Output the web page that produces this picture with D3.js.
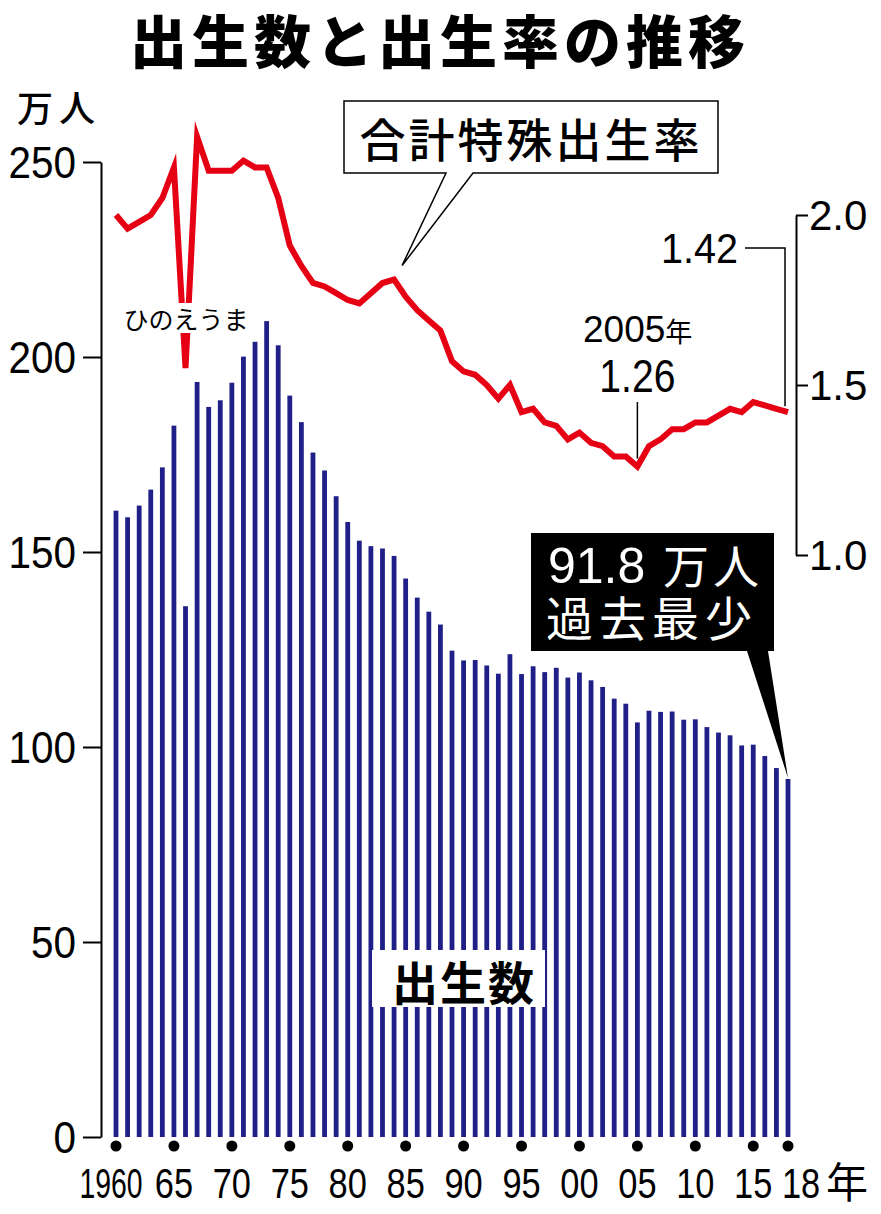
<!DOCTYPE html>
<html>
<head>
<meta charset="utf-8">
<script src="https://cdn.jsdelivr.net/npm/d3@7"></script>
<style>
  body { margin: 0; background: #fff; }
  svg { display: block; }
</style>
</head>
<body>
<svg width="881" height="1214"></svg>
<script>
// ---- data ----
const years = d3.range(1960, 2019);
// births, 10k persons
const births = [
  160.6, 158.9, 161.9, 166.0, 171.7, 182.4, 136.1, 193.6, 187.2, 188.9,
  193.4, 200.1, 203.9, 209.2, 203.0, 190.1, 183.3, 175.5, 170.9, 164.3,
  157.7, 152.9, 151.5, 150.9, 149.0, 143.2, 138.3, 134.7, 131.4, 124.7,
  122.2, 122.3, 120.9, 118.8, 123.8, 118.7, 120.7, 119.2, 120.3, 117.8,
  119.1, 117.1, 115.4, 112.4, 111.1, 106.3, 109.3, 109.0, 109.1, 107.0,
  107.1, 105.1, 103.7, 103.0, 100.4, 100.6, 97.7, 94.6, 91.8,
];
// total fertility rate
const tfr = [
  2.00, 1.96, 1.98, 2.00, 2.05, 2.14, 1.55, 2.23, 2.13, 2.13,
  2.13, 2.16, 2.14, 2.14, 2.05, 1.91, 1.85, 1.80, 1.79, 1.77,
  1.75, 1.74, 1.77, 1.80, 1.81, 1.76, 1.72, 1.69, 1.66, 1.57,
  1.54, 1.53, 1.50, 1.46, 1.50, 1.42, 1.43, 1.39, 1.38, 1.34,
  1.36, 1.33, 1.32, 1.29, 1.29, 1.26, 1.32, 1.34, 1.37, 1.37,
  1.39, 1.39, 1.41, 1.43, 1.42, 1.45, 1.44, 1.43, 1.42,
];
const birthTicks = [0, 50, 100, 150, 200, 250];
const rateTicks = [1.0, 1.5, 2.0];
const yearTicks = [1960, 1965, 1970, 1975, 1980, 1985, 1990, 1995, 2000, 2005, 2010, 2015, 2018];
const yearLabels = ["1960", "65", "70", "75", "80", "85", "90", "95", "00", "05", "10", "15", "18"];

const NUM_FONT = "'Liberation Sans', Arial, sans-serif";
const JP_FONT = "'Noto Sans CJK JP', 'Noto Sans', sans-serif";
const BAR_COLOR = "#1f1f87";
const LINE_COLOR = "#e60014";

let svg = d3.select("svg");

// ---- scales ----
const x = d3.scaleLinear().domain([1960, 2018]).range([116, 788]);
const yBirth = d3.scaleLinear().domain([0, 250]).range([1137, 162]);
const yRate = d3.scaleLinear().domain([1, 2]).range([555, 215]);

// ---- title ----
svg.append("text")
  .attr("x", 440).attr("y", 38)
  .attr("text-anchor", "middle")
  .attr("dominant-baseline", "central")
  .attr("font-family", JP_FONT)
  .attr("font-weight", 900)
  .attr("font-size", 57)
  .attr("letter-spacing", 5)
  .text("出生数と出生率の推移");

svg.append("text")
  .attr("x", 17).attr("y", 106)
  .attr("dominant-baseline", "central")
  .attr("font-family", JP_FONT)
  .attr("font-weight", 500)
  .attr("font-size", 36)
  .attr("letter-spacing", 6)
  .text("万人");

// ---- bars ----
svg.append("g")
  .selectAll("rect")
  .data(years)
  .join("rect")
  .attr("x", (d) => x(d) - 2.4)
  .attr("width", 4.8)
  .attr("y", (d, i) => yBirth(births[i]))
  .attr("height", (d, i) => yBirth(0) - yBirth(births[i]))
  .attr("fill", BAR_COLOR);

// ---- left axis ----
const leftAxis = svg.append("g")
  .attr("transform", "translate(101,0)")
  .call(d3.axisLeft(yBirth).tickValues(birthTicks).tickSize(18).tickSizeOuter(0).tickPadding(0));
leftAxis.select(".domain").attr("stroke", "#000").attr("stroke-width", 2);
leftAxis.selectAll(".tick line").attr("stroke", "#000").attr("stroke-width", 2);
leftAxis.selectAll(".tick text")
  .attr("x", 0).attr("dy", null)
  .attr("dominant-baseline", "central")
  .attr("transform", "translate(-25,0) scale(0.92,1)")
  .attr("font-family", NUM_FONT)
  .attr("font-size", 44)
  .attr("fill", "#000");

// ---- right axis ----
const rightAxis = svg.append("g")
  .attr("transform", "translate(796,0)")
  .call(d3.axisRight(yRate).tickValues(rateTicks).tickSize(12).tickSizeOuter(0)
    .tickPadding(0).tickFormat(d3.format(".1f")));
rightAxis.select(".domain").attr("stroke", "#000").attr("stroke-width", 2);
rightAxis.selectAll(".tick line").attr("stroke", "#000").attr("stroke-width", 2);
rightAxis.selectAll(".tick text")
  .attr("x", 13).attr("dy", null)
  .attr("dominant-baseline", "central")
  .attr("font-family", NUM_FONT)
  .attr("font-size", 42)
  .attr("fill", "#000");

// ---- x axis: dots + labels ----
const xAxis = svg.append("g");
xAxis.selectAll("circle")
  .data(yearTicks)
  .join("circle")
  .attr("cx", (d) => x(d))
  .attr("cy", 1146)
  .attr("r", 5.5)
  .attr("fill", "#000");

xAxis.selectAll("text")
  .data(yearTicks)
  .join("text")
  .attr("transform", (d, i) => {
    let dx = 0, sx = 0.8;
    if (i === 0) { dx = -5; sx = 0.66; }
    if (d === 2018) dx = 13;
    return `translate(${x(d) + dx},1198) scale(${sx},1)`;
  })
  .attr("text-anchor", "middle")
  .attr("font-family", NUM_FONT)
  .attr("font-size", 43)
  .text((d, i) => yearLabels[i]);

svg.append("text")
  .attr("x", 847).attr("y", 1198)
  .attr("text-anchor", "middle")
  .attr("font-family", JP_FONT)
  .attr("font-size", 42)
  .text("年");

// ---- "出生数" label ----
svg.append("rect")
  .attr("x", 372).attr("y", 950)
  .attr("width", 173).attr("height", 57)
  .attr("fill", "#fff");
svg.append("text")
  .attr("x", 464).attr("y", 980)
  .attr("text-anchor", "middle")
  .attr("dominant-baseline", "central")
  .attr("font-family", JP_FONT)
  .attr("font-weight", 700)
  .attr("font-size", 46)
  .attr("letter-spacing", 2)
  .text("出生数");

// ---- fertility rate line ----
const line = d3.line()
  .x((d) => x(d))
  .y((d, i) => yRate(tfr[i]));

svg.append("path")
  .datum(years)
  .attr("d", line)
  .attr("fill", "none")
  .attr("stroke", LINE_COLOR)
  .attr("stroke-width", 6)
  .attr("stroke-linejoin", "miter")
  .attr("stroke-miterlimit", 6);

// ひのえうま label, white backing cuts through the line
svg.append("rect")
  .attr("x", 125).attr("y", 303)
  .attr("width", 122).attr("height", 30)
  .attr("fill", "#fff");
svg.append("text")
  .attr("x", 186).attr("y", 318)
  .attr("text-anchor", "middle")
  .attr("dominant-baseline", "central")
  .attr("font-family", JP_FONT)
  .attr("font-size", 25)
  .text("ひのえうま");

// ---- 合計特殊出生率 callout ----
const iTip = years.indexOf(1984);
svg.append("path")
  .attr("d", `M344,101 H718 V173 H473 L${x(1984) + 8},${yRate(tfr[iTip]) - 14} L446,173 H344 Z`)
  .attr("fill", "#fff")
  .attr("stroke", "#000")
  .attr("stroke-width", 1.5);
svg.append("text")
  .attr("x", 531).attr("y", 137)
  .attr("text-anchor", "middle")
  .attr("dominant-baseline", "central")
  .attr("font-family", JP_FONT)
  .attr("font-weight", 500)
  .attr("font-size", 46)
  .attr("letter-spacing", 3)
  .text("合計特殊出生率");

// ---- 2005 minimum ----
const i2005 = years.indexOf(2005);
svg.append("line")
  .attr("x1", x(2005)).attr("x2", x(2005))
  .attr("y1", 402).attr("y2", yRate(tfr[i2005]) - 8)
  .attr("stroke", "#000").attr("stroke-width", 1.5);
svg.append("text")
  .attr("x", 583).attr("y", 342)
  .attr("font-family", NUM_FONT)
  .attr("font-size", 37)
  .text("2005")
  .append("tspan")
  .attr("font-family", JP_FONT)
  .attr("font-size", 27)
  .text("年");
svg.append("text")
  .attr("transform", `translate(${x(2005)},392) scale(0.85,1)`)
  .attr("text-anchor", "middle")
  .attr("font-family", NUM_FONT)
  .attr("font-size", 46)
  .text(d3.format(".2f")(tfr[i2005]));

// ---- 2018 latest rate ----
const iLast = years.length - 1;
svg.append("path")
  .attr("d", `M745,248 H785 V${yRate(tfr[iLast]) - 6}`)
  .attr("fill", "none")
  .attr("stroke", "#000")
  .attr("stroke-width", 1.5);
svg.append("text")
  .attr("transform", "translate(738,263) scale(0.92,1)")
  .attr("text-anchor", "end")
  .attr("font-family", NUM_FONT)
  .attr("font-size", 43)
  .text(d3.format(".2f")(tfr[iLast]));

// ---- 91.8万人 callout (one text block, two lines) ----
svg.append("path")
  .attr("d", `M531,533 H774 V651 H768 L${x(2018)},${yBirth(births[iLast]) - 1} L747,651 H531 Z`)
  .attr("fill", "#000");
const lastText = svg.append("text")
  .attr("fill", "#fff");
lastText.append("tspan")
  .attr("x", 548).attr("y", 583)
  .attr("font-family", NUM_FONT)
  .attr("font-size", 50)
  .text(births[iLast].toFixed(1));
lastText.append("tspan")
  .attr("x", 663).attr("y", 583)
  .attr("font-family", JP_FONT)
  .attr("font-size", 46)
  .attr("letter-spacing", 4)
  .text("万人");
lastText.append("tspan")
  .attr("x", 546).attr("y", 636)
  .attr("font-family", JP_FONT)
  .attr("font-size", 47)
  .attr("letter-spacing", 6)
  .text("過去最少");
</script>
</body>
</html>
